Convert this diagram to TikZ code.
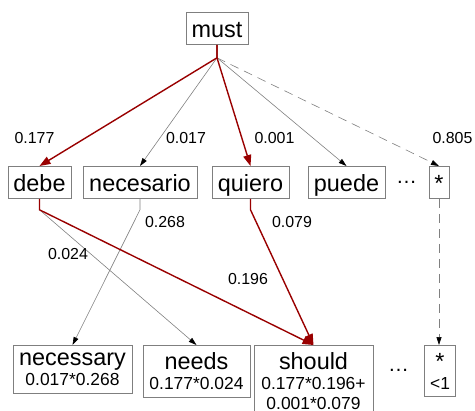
\documentclass[tikz,border=0pt]{standalone}
\usepackage{fontspec}
\setmainfont{Liberation Sans}
\usetikzlibrary{arrows.meta}
\definecolor{edgered}{HTML}{990000}
\definecolor{boxgray}{HTML}{7F7F7F}
\definecolor{edgegray}{HTML}{808080}
\newcommand{\bigf}{\fontsize{23.5}{20}\selectfont}
\newcommand{\smallf}{\fontsize{17.5}{20}\selectfont}
\newcommand{\labf}{\fontsize{16}{19}\selectfont}
\begin{document}
\begin{tikzpicture}[x=1bp,y=-1bp,
  word/.style={draw=boxgray, line width=0.8bp, font=\bigf, inner xsep=0pt,
    inner ysep=5bp, text height=20bp, text depth=2bp, anchor=north},
  outbox/.style={draw=boxgray, line width=0.8bp, font=\bigf, inner xsep=0pt,
    inner ysep=7.6bp, align=center, anchor=north},
  lab/.style={font=\labf, inner sep=0pt},
  dotsnode/.style={font=\fontsize{21}{21}\selectfont, inner sep=0pt},
  grayedge/.style={draw=edgegray, line width=0.6bp,
    -{Triangle[length=8bp,width=5bp,color=black]}},
  dashedge/.style={grayedge, dash pattern=on 9bp off 6bp},
  redge/.style={draw=edgered, line width=1.4bp,
    -{Triangle[length=11bp,width=8bp]}}
]
\useasboundingbox (0,0) rectangle (475,410);

% top row
\node[word, minimum width=62bp] (must) at (217,12) {must};
\node[word, minimum width=63bp] (debe) at (39.5,166) {debe};
\node[word, minimum width=114bp] (necesario) at (140,166) {necesario};
\node[word, minimum width=77bp] (quiero) at (250.5,166) {quiero};
\node[word, minimum width=77bp] (puede) at (346.5,166) {puede};
\node[word, minimum width=20bp] (star) at (439,166) {*};
\node[dotsnode] (dots1) at (406.5,182.7) {…};

% bottom row
\node[outbox, minimum width=119bp] (necessary) at (72.5,345)
  {necessary\\{\smallf 0.017*0.268}};
\node[outbox, minimum width=107bp] (needs) at (196.5,345)
  {needs\\{\smallf 0.177*0.024}};
\node[outbox, minimum width=119bp] (should) at (313.5,345)
  {should\\{\smallf 0.177*0.196+}\\{\smallf 0.001*0.079}};
\node[outbox, minimum width=31bp] (star2) at (440,345)
  {*\\{\smallf <1}};
\node[dotsnode] (dots2) at (398.5,370.7) {…};

% gray edges
\draw[grayedge] (must.south) -- ++(0,13) -- (necesario.north);
\draw[grayedge] (must.south) -- ++(0,13) -- (puede.north);
\draw[dashedge] (must.south) ++(0,13) -- (star.north);
\draw[grayedge] (debe.south) -- ++(0,11) -- (needs.north);
\draw[grayedge] (necesario.south) -- ++(0,11) -- (necessary.north);
\draw[dashedge] (star.south) -- (star.south |- star2.north);

% red edges
\draw[redge] (must.south) -- ++(0,13) -- (debe.north);
\draw[redge] (must.south) -- ++(0,13) -- (quiero.north);
\draw[redge] (debe.south) -- ++(0,11) -- (should.north);
\draw[redge] (quiero.south) -- ++(0,11) -- (should.north);

% labels
\node[lab] (l1) at (34.5,138.5) {0.177};
\node[lab] (l2) at (186,138.5) {0.017};
\node[lab] (l3) at (274.5,138.5) {0.001};
\node[lab] (l4) at (452.5,138.5) {0.805};
\node[lab] (l5) at (165,222.5) {0.268};
\node[lab] (l6) at (68,254) {0.024};
\node[lab] (l7) at (248,279) {0.196};
\node[lab] (l8) at (292,222.5) {0.079};
\end{tikzpicture}
\end{document}
